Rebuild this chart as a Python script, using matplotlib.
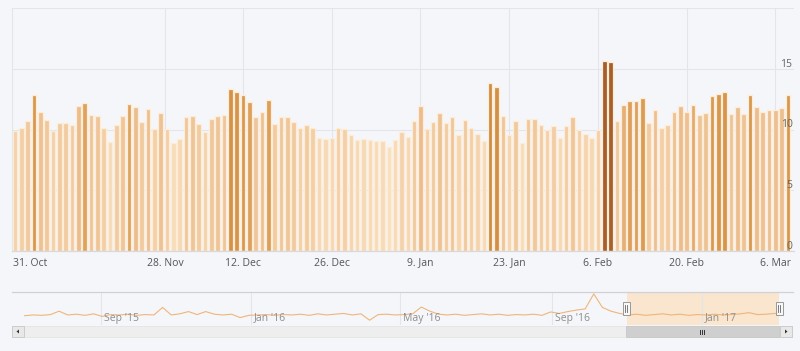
import numpy as np
import pandas as pd
import matplotlib
matplotlib.use("Agg")
import matplotlib.pyplot as plt
import matplotlib.dates as mdates
from matplotlib.colors import LinearSegmentedColormap, to_rgb
from matplotlib.patches import Rectangle, Polygon
from matplotlib.lines import Line2D

plt.rcParams['font.family'] = ['Open Sans', 'DejaVu Sans']

# ---------------- data ----------------
bar_values = [
    9.89, 10.16, 10.74, 12.83, 11.48, 10.80, 9.89, 10.52, 10.52, 10.38,
    11.90, 12.20, 11.21, 11.07, 10.11, 9.01, 10.38, 11.07, 12.12, 11.84,
    10.60, 11.70, 10.03, 11.37, 10.08, 8.87, 9.18, 11.04, 11.10, 10.47,
    9.81, 10.88, 11.15, 11.21, 13.32, 13.05, 12.80, 12.28, 10.99, 11.46,
    12.41, 10.47, 11.02, 11.02, 10.63, 10.16, 10.38, 10.16, 9.29, 9.20,
    9.31, 10.16, 10.03, 9.56, 9.15, 9.20, 9.12, 9.07, 9.04, 8.52,
    9.12, 9.78, 9.37, 10.71, 11.90, 10.03, 10.60, 11.35, 10.55, 11.04,
    9.51, 10.77, 10.11, 9.64, 9.09, 13.85, 13.49, 11.07, 9.56, 10.66,
    8.93, 10.85, 10.85, 10.38, 9.97, 10.25, 9.34, 10.30, 10.99, 9.97,
    9.62, 9.29, 9.97, 15.60, 15.55, 10.71, 11.98, 12.31, 12.31, 12.58,
    10.52, 11.62, 10.16, 10.33, 11.48, 11.90, 11.48, 12.01, 11.21, 11.35,
    12.75, 12.91, 13.08, 11.29, 11.84, 11.29, 12.88, 11.84, 11.46, 11.62,
    11.62, 11.73, 12.86,
]
x_tick_pos = [23.67, 36, 50, 64, 78, 92, 106, 120]
x_tick_labels = ['28. Nov', '12. Dec', '26. Dec', '9. Jan', '23. Jan',
                 '6. Feb', '20. Feb', '6. Mar']
first_label = '31. Oct'
y_ticks = [0, 5, 10, 15, 20]
y_labels = ['0', '5', '10', '15']

nav_start = '2015-07-01'
nav_values = [
    9.8, 10.0, 9.9, 10.1, 11.0, 10.0, 10.2, 9.9, 10.3, 9.6,
    10.1, 10.0, 10.2, 9.9, 10.1, 10.0, 12.0, 10.0, 10.3, 10.9,
    10.1, 10.9, 10.2, 10.0, 10.2, 9.3, 9.9, 10.0, 10.1, 9.9,
    10.1, 10.0, 10.2, 9.9, 10.3, 10.0, 10.2, 10.4, 10.0, 10.3,
    8.6, 10.1, 10.2, 10.0, 10.1, 10.3, 12.1, 11.0, 10.2, 10.0,
    10.2, 9.9, 10.1, 10.3, 10.0, 10.2, 9.9, 10.1, 10.0, 10.2,
    9.9, 10.8, 10.4, 10.9, 11.3, 11.6, 15.6, 12.0, 11.0, 10.4,
    10.0, 10.2, 9.9, 10.1, 10.3, 10.0, 10.2, 9.9, 10.1, 10.0,
    10.2, 10.0, 10.1, 10.3, 10.6, 10.1, 10.2, 10.4, 10.6,
]
nav_label_dates = ['2015-09-01', '2016-01-01', '2016-05-01', '2016-09-01', '2017-01-01']
nav_labels = ["Sep '15", "Jan '16", "May '16", "Sep '16", "Jan '17"]
nav_range = ['2016-11-01', '2017-03-04']

# ---------------- style ----------------
W, H = 800, 351
BG = '#f5f6fa'
GRID = '#e3e5eb'

def fx(px):
    return px / W

def fy(py):
    return 1 - py / H

stops = [(8.5, '#f9e1c0'), (10.0, '#f3d0a8'), (11.9, '#ebbd8e'),
         (12.05, '#dfa462'), (13.0, '#d6964c'), (13.9, '#cf8b42'), (15.6, '#a65e2b')]
vmin, vmax = stops[0][0], stops[-1][0]
cmap = LinearSegmentedColormap.from_list(
    'c', [((v - vmin) / (vmax - vmin), to_rgb(c)) for v, c in stops])
bar_colors = [cmap(np.clip((v - vmin) / (vmax - vmin), 0, 1)) for v in bar_values]

fig = plt.figure(figsize=(W / 100, H / 100), dpi=100)
fig.patch.set_facecolor(BG)

# ---------------- main chart ----------------
ax = fig.add_axes([fx(12), fy(251), fx(794) - fx(12), fy(8) - fy(251)])
ax.set_facecolor(BG)
idx = np.arange(len(bar_values))
ax.bar(idx, bar_values, width=0.72, color=bar_colors, edgecolor='#fdecd6',
       linewidth=0.9, zorder=3)
ax.set_xlim(-0.47, 122.95)
ax.set_ylim(0, 20)
ax.set_yticks(y_ticks)
ax.set_xticks(x_tick_pos)
ax.tick_params(axis='both', length=0, labelleft=False, labelbottom=False)
ax.grid(True, color=GRID, linewidth=0.8, zorder=0)
for s in ['top', 'right']:
    ax.spines[s].set_visible(False)
ax.spines['left'].set_color(GRID)
ax.spines['left'].set_linewidth(0.8)
ax.spines['bottom'].set_color('#d6d9e0')
ax.spines['bottom'].set_linewidth(0.9)
ax.spines['bottom'].set_zorder(4)

xt = ax.get_xaxis_transform()
for p, lab in zip(x_tick_pos, x_tick_labels):
    ax.text(p, -12 / 243, lab, transform=xt, ha='center', va='center',
            fontsize=7.5, color='#555555')
fig.text(fx(13), fy(263), first_label, ha='left', va='center',
         fontsize=7.5, color='#555555')

yt = ax.get_yaxis_transform()
for v, lab in zip(y_ticks, y_labels):
    ax.text(0.998, v + 0.17, lab, transform=yt, ha='right', va='baseline',
            fontsize=7.5, color='#666666', zorder=5)

# ---------------- navigator ----------------
nav = fig.add_axes([fx(12), fy(325), fx(793) - fx(12), fy(292) - fy(325)])
nav.set_facecolor('none')
nav_dates = pd.date_range(nav_start, periods=len(nav_values), freq='7D')
nav.plot(nav_dates, nav_values, color='#efb57a', linewidth=0.8, zorder=3)
x0 = mdates.date2num(pd.Timestamp(nav_start)) - (24.6 - 12) / 1.232
x1 = mdates.date2num(pd.Timestamp(nav_start)) + (793 - 24.6) / 1.232
nav.set_xlim(x0, x1)
nav.set_ylim(7.33, 16.1)
nav.set_xticks([mdates.date2num(pd.Timestamp(d)) for d in nav_label_dates])
nav.set_yticks([])
nav.tick_params(axis='both', length=0, labelbottom=False)
nav.grid(True, axis='x', color=GRID, linewidth=0.8, zorder=0)
for s in ['left', 'right', 'bottom']:
    nav.spines[s].set_visible(False)
nav.spines['top'].set_color('#cfd1d6')
nav.spines['top'].set_linewidth(0.9)
ntr = nav.get_xaxis_transform()
for d, lab in zip(nav_label_dates, nav_labels):
    nav.text(mdates.date2num(pd.Timestamp(d)) + 3 / 1.232, (325 - 318) / 33, lab,
             transform=ntr, ha='left', va='center', fontsize=7.5, color='#8e8e8e',
             zorder=4)
nav.axvspan(mdates.date2num(pd.Timestamp(nav_range[0])),
            mdates.date2num(pd.Timestamp(nav_range[1])),
            color='#fde0c0', alpha=0.75, zorder=1, linewidth=0)

# handles
for hx in [626, 779]:
    fig.add_artist(Rectangle((fx(hx - 3.5), fy(315)), 7 / W, 13 / H,
                             transform=fig.transFigure, facecolor='#f7f7f7',
                             edgecolor='#999999', linewidth=0.7, zorder=6))
    for dx in [-1, 1]:
        fig.add_artist(Line2D([fx(hx + dx), fx(hx + dx)], [fy(305), fy(312)],
                              transform=fig.transFigure, color='#666666',
                              linewidth=0.6, zorder=7))

# ---------------- scrollbar ----------------
fig.add_artist(Rectangle((fx(12), fy(337)), 780 / W, 11 / H,
                         transform=fig.transFigure, facecolor='#eeeeee',
                         edgecolor='#e4e4e4', linewidth=0.6, zorder=2))
fig.add_artist(Rectangle((fx(626), fy(337)), 153 / W, 11 / H,
                         transform=fig.transFigure, facecolor='#cfcfcf',
                         edgecolor='#c8c8c8', linewidth=0.6, zorder=3))
for dx in [-2, 0, 2]:
    fig.add_artist(Line2D([fx(702 + dx), fx(702 + dx)], [fy(329.5), fy(333.5)],
                          transform=fig.transFigure, color='#333333',
                          linewidth=0.7, zorder=4))
for bx, direction in [(12, -1), (780, 1)]:
    fig.add_artist(Rectangle((fx(bx), fy(337)), 12 / W, 11 / H,
                             transform=fig.transFigure, facecolor='#e8e8e8',
                             edgecolor='#cccccc', linewidth=0.7, zorder=4))
    cx, cy = bx + 6, 331.5
    if direction < 0:
        pts = [(fx(cx + 1), fy(cy - 2)), (fx(cx + 1), fy(cy + 2)), (fx(cx - 1.5), fy(cy))]
    else:
        pts = [(fx(cx - 1), fy(cy - 2)), (fx(cx - 1), fy(cy + 2)), (fx(cx + 1.5), fy(cy))]
    fig.add_artist(Polygon(pts, closed=True, transform=fig.transFigure,
                           facecolor='#333333', edgecolor='none', zorder=5))

fig.savefig('out.png', dpi=100, facecolor=BG)
